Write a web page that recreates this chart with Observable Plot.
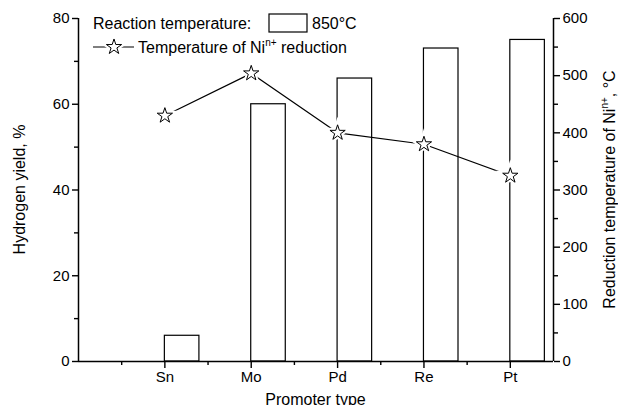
<!DOCTYPE html>
<html><head><meta charset="utf-8">
<script src="https://cdn.jsdelivr.net/npm/d3@7"></script>
<script src="https://cdn.jsdelivr.net/npm/@observablehq/plot@0.6"></script>
<style>body{margin:0;background:#fff}</style>
</head><body><div id="chart"></div>
<script>
const promoters = ["Sn","Mo","Pd","Re","Pt"];
const hydrogenYield = [6,60,66,73,75];
const reductionTemp = [430,504,400,380,325];
const leftTicks = [0,20,40,60,80];
const leftMinor = [10,30,50,70];
const rightTicks = [0,100,200,300,400,500,600];
const rightMinor = [50,150,250,350,450,550];
const xMinor = [0.5,1.5,2.5,3.5,4.5];

const W=618,H=405, mL=78, mR=65, mT=18, mB=44;
const yMax=80, tMax=600;
const toY = t => t*yMax/tMax;
const font = "'Liberation Sans', Arial, sans-serif";
const data = promoters.map((p,i)=>({p, i:i+1, yield: hydrogenYield[i], temp: reductionTemp[i]}));

const plot = Plot.plot({
  width:W, height:H, marginLeft:mL, marginRight:mR, marginTop:mT, marginBottom:mB,
  style:{fontFamily:font, fontSize:"15px", color:"#000", background:"#fff", overflow:"visible"},
  x:{domain:[0,5.5]},
  y:{domain:[0,yMax]},
  marks:[
    Plot.rect(data,{x1:"i", x2:d=>d.i+0.4, y1:0, y2:"yield", fill:"white", stroke:"black", strokeWidth:1.2}),
    Plot.line(data,{x:"i", y:d=>toY(d.temp), stroke:"black", strokeWidth:1.2}),
    Plot.dot(data,{x:"i", y:d=>toY(d.temp), symbol:"star", r:4.8, fill:"white", stroke:"white", strokeWidth:5}),
    Plot.dot(data,{x:"i", y:d=>toY(d.temp), symbol:"star", r:4.8, fill:"white", stroke:"black", strokeWidth:1}),
    Plot.axisX({ticks:data.map(d=>d.i), tickFormat:d=>promoters[d-1], tickSize:7, tickPadding:3, label:null, strokeWidth:1.4}),
    Plot.axisX({ticks:xMinor, tickFormat:()=>"", tickSize:4, label:null, strokeWidth:1.4}),
    Plot.axisY({ticks:leftTicks, tickSize:6, tickPadding:3, label:null, strokeWidth:1.4}),
    Plot.axisY({ticks:leftMinor, tickFormat:()=>"", tickSize:4, label:null, strokeWidth:1.4}),
    Plot.axisY({ticks:rightTicks.map(toY), anchor:"right", tickFormat:d=>String(Math.round(d*tMax/yMax)), tickSize:6, tickPadding:3, label:null, strokeWidth:1.4}),
    Plot.axisY({ticks:rightMinor.map(toY), anchor:"right", tickFormat:()=>"", tickSize:4, label:null, strokeWidth:1.4}),
    Plot.ruleY([0],{stroke:"black", strokeWidth:1.5}),
    Plot.ruleX([0],{stroke:"black", strokeWidth:1.5}),
    Plot.ruleX([5.5],{stroke:"black", strokeWidth:1.5})
  ]
});
document.getElementById("chart").appendChild(plot);

const svg = d3.select(plot);
const xs = plot.scale("x"), ys = plot.scale("y");
const cx = (xs.range[0]+xs.range[1])/2, cy = (ys.range[0]+ys.range[1])/2;
const g = svg.append("g").attr("font-family", font).attr("font-size", 16).attr("fill","black").attr("text-anchor","start");

// axis titles
g.append("text").attr("transform",`translate(25,${cy}) rotate(-90)`).attr("text-anchor","middle").text("Hydrogen yield, %");
const rt = g.append("text").attr("transform",`translate(615,${cy}) rotate(-90)`).attr("text-anchor","middle");
rt.append("tspan").text("Reduction temperature of Ni");
rt.append("tspan").attr("font-size",10).attr("dy",-7).text("n+");
rt.append("tspan").attr("dy",7).text(", °C");
g.append("text").attr("x",cx).attr("y",405).attr("text-anchor","middle").text("Promoter type");

// legend
g.append("text").attr("x",93).attr("y",29).text("Reaction temperature:");
g.append("rect").attr("x",269).attr("y",14).attr("width",38).attr("height",18).attr("fill","white").attr("stroke","black").attr("stroke-width",1.2);
g.append("text").attr("x",312).attr("y",29).text("850°C");
g.append("line").attr("x1",93).attr("x2",134).attr("y1",47).attr("y2",47).attr("stroke","black").attr("stroke-width",1.2);
const starPath = d3.symbol(d3.symbolStar, 4.8*4.8*Math.PI)();
g.append("path").attr("d", starPath).attr("transform","translate(114,47)").attr("fill","white").attr("stroke","white").attr("stroke-width",5);
g.append("path").attr("d", starPath).attr("transform","translate(114,47)").attr("fill","white").attr("stroke","black");
const lt = g.append("text").attr("x",138).attr("y",53);
lt.append("tspan").text("Temperature of Ni");
lt.append("tspan").attr("font-size",10).attr("dy",-7).text("n+");
lt.append("tspan").attr("dy",7).text(" reduction");
</script></body></html>
